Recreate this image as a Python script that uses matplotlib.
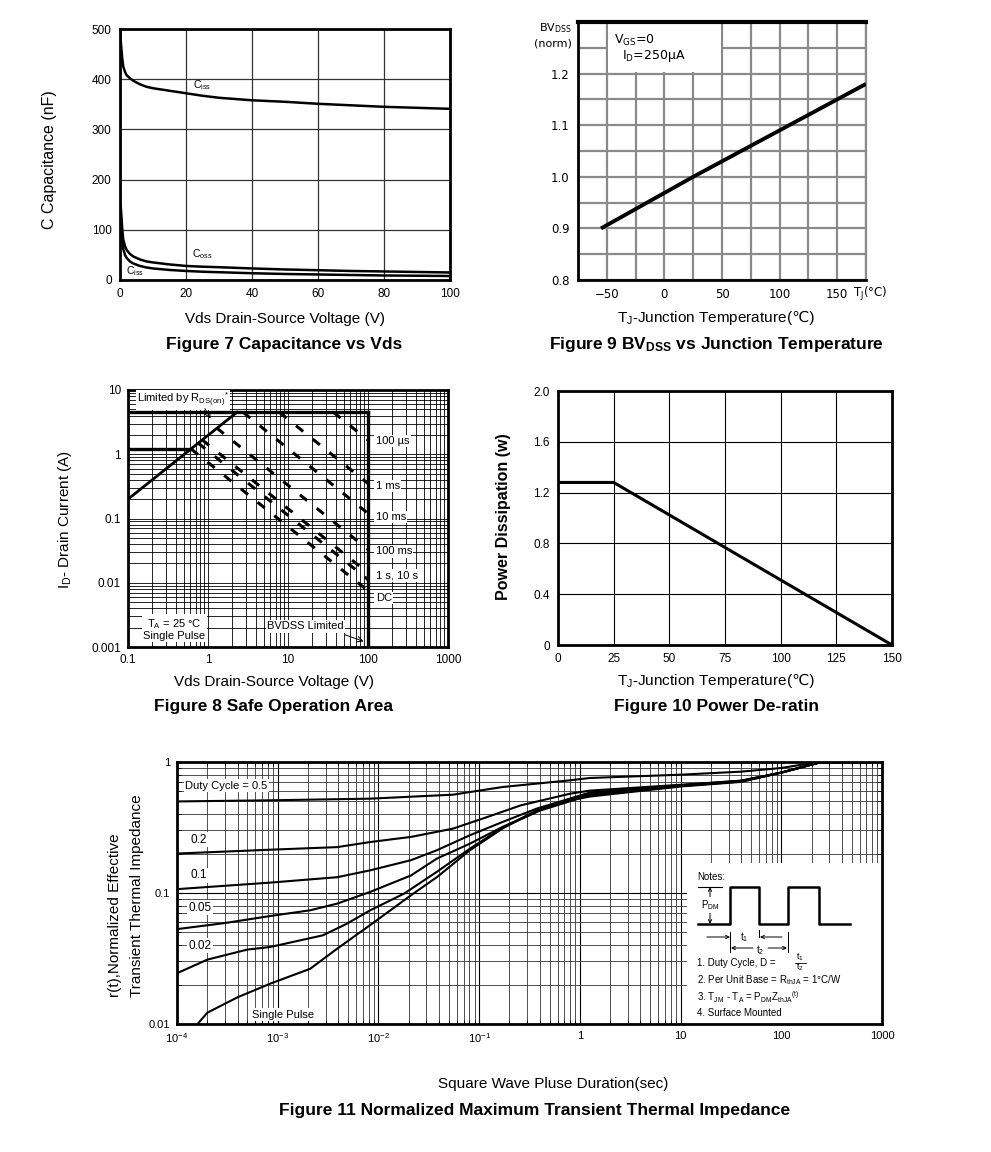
import matplotlib.pyplot as plt
import numpy as np
from matplotlib.patches import Rectangle
from matplotlib.ticker import LogLocator, NullFormatter, FixedLocator

plt.rcParams['font.family'] = ['Liberation Sans', 'DejaVu Sans']
plt.rcParams['mathtext.fontset'] = 'custom'
plt.rcParams['mathtext.rm'] = 'Liberation Sans'
plt.rcParams['mathtext.default'] = 'regular'

# ---- Figure 7 data: capacitance vs Vds
vds = [0, 0.3, 0.7, 1, 1.5, 2, 3, 4, 6, 8, 10, 15, 20, 25, 30, 40, 50, 60, 70, 80, 90, 100]
c_iss = [500, 470, 440, 425, 415, 408, 402, 397, 390, 385, 382, 377, 372, 367, 363, 358, 355, 351, 348, 345, 343, 341]
c_oss = [160, 140, 100, 80, 68, 60, 52, 47, 41, 37, 35, 31, 28, 26.5, 25.5, 23, 21, 19.5, 18, 17, 16, 15]
c_rss = [150, 120, 80, 62, 50, 44, 37, 33, 28, 25, 23, 20, 18, 16.5, 15.5, 13.5, 12, 11, 10, 9, 8.5, 8]

# ---- Figure 9 data: BVdss vs Tj
tj = [-55, 25, 100, 175]
bv_norm = [0.90, 1.00, 1.09, 1.18]

# ---- Figure 8 data: safe operating area
rds_v = [0.1, 2.3]
rds_i = [0.2, 4.5]
i_max = 4.5
v_max = 100
low_v = [0.1, 0.61]
low_i = [1.22, 1.22]
pulse_names = ['100 µs', '1 ms', '10 ms', '100 ms', '1 s, 10 s', '', 'DC']
pulse_v0 = [37, 7.8, 2.75, 1.28, 0.84, 0.75, 0.61]
pulse_i0 = [4.5, 4.5, 4.5, 2.57, 1.69, 1.5, 1.22]
pulse_i1 = [1.66, 0.35, 0.12, 0.033, 0.0142, 0.0112, 0.0075]
pulse_label_i = [1.6, 0.32, 0.106, 0.031, 0.0129, None, 0.0058]

# ---- Figure 10 data: power derating
t_amb = [0, 25, 150]
p_diss = [1.28, 1.28, 0.0]

# ---- Figure 11 data: transient thermal impedance
t_05 = [1e-4, 8.4e-4, 8.3e-3, 5.5e-2, 0.17, 0.8, 1.26, 10, 40, 100, 200, 1000]
r_05 = [0.50, 0.51, 0.525, 0.563, 0.644, 0.725, 0.755, 0.80, 0.844, 0.90, 0.98, 1.0]
t_02 = [1e-4, 8.4e-4, 3.9e-3, 8.3e-3, 2.1e-2, 5.5e-2, 0.12, 0.26, 0.8, 1.26, 10, 40, 100, 250, 1000]
r_02 = [0.20, 0.214, 0.224, 0.245, 0.268, 0.31, 0.38, 0.467, 0.573, 0.605, 0.67, 0.72, 0.83, 1.0, 1.0]
t_01 = [1e-4, 8.4e-4, 3.9e-3, 8.3e-3, 2.1e-2, 3.8e-2, 8.1e-2, 0.17, 0.37, 1.26, 10, 40, 100, 250, 1000]
r_01 = [0.107, 0.12, 0.132, 0.149, 0.178, 0.212, 0.276, 0.348, 0.44, 0.585, 0.665, 0.72, 0.83, 1.0, 1.0]
t_005 = [1e-4, 3e-4, 8.4e-4, 2.1e-3, 3.9e-3, 8.3e-3, 2.1e-2, 3.8e-2, 8.1e-2, 0.17, 0.4, 1.26, 10, 40, 100, 250, 1000]
r_005 = [0.053, 0.059, 0.0667, 0.0738, 0.083, 0.102, 0.136, 0.183, 0.238, 0.319, 0.43, 0.57, 0.66, 0.715, 0.83, 1.0, 1.0]
t_002 = [1e-4, 2e-4, 5e-4, 8.4e-4, 2.8e-3, 4.8e-3, 8.3e-3, 1.8e-2, 3.8e-2, 8.1e-2, 0.17, 0.4, 1.26, 10, 40, 100, 250, 1000]
r_002 = [0.0244, 0.031, 0.037, 0.0387, 0.0475, 0.058, 0.0738, 0.099, 0.145, 0.218, 0.315, 0.425, 0.56, 0.655, 0.71, 0.83, 1.0, 1.0]
t_sp = [1.6e-4, 2e-4, 4e-4, 8.4e-4, 2.1e-3, 3.9e-3, 8.3e-3, 2.1e-2, 3.8e-2, 8.1e-2, 0.17, 0.37, 0.8, 1.26, 10, 40, 100, 250, 1000]
r_sp = [0.01, 0.0122, 0.016, 0.0203, 0.0264, 0.0376, 0.057, 0.096, 0.132, 0.212, 0.31, 0.428, 0.51, 0.545, 0.65, 0.705, 0.83, 1.0, 1.0]
zth_curves = [(t_05, r_05), (t_02, r_02), (t_01, r_01), (t_005, r_005), (t_002, r_002), (t_sp, r_sp)]

W, H = 991, 1152
fig = plt.figure(figsize=(W / 100, H / 100), dpi=100)


def rect(l, t, r, b):
    return [l / W, 1 - b / H, (r - l) / W, (b - t) / H]


def ftext(x, y, s, **kw):
    kw.setdefault('ha', 'center')
    kw.setdefault('va', 'center')
    return fig.text(x / W, 1 - y / H, s, **kw)


def tj_label(cx, cy):
    # the degree-Celsius sign is missing from Liberation Sans, so it goes in a second text
    a = fig.text(0, 0, 'T$_J$-Junction Temperature', fontsize=11, ha='left', va='baseline')
    b = fig.text(0, 0, '(℃)', fontsize=11, ha='left', va='baseline',
                 family=['Liberation Sans', 'DejaVu Sans'])
    r = fig.canvas.get_renderer()
    wa = a.get_window_extent(r).width
    wb = b.get_window_extent(r).width
    x0 = cx - (wa + wb) / 2
    a.set_position((x0 / W, 1 - cy / H))
    b.set_position(((x0 + wa) / W, 1 - cy / H))


def frame(ax, lw=2.0):
    for sp in ax.spines.values():
        sp.set_linewidth(lw)
        sp.set_color('black')


white = dict(facecolor='white', edgecolor='none', pad=1)

# ================= Figure 7
ax7 = fig.add_axes(rect(120, 29, 450, 280))
ax7.plot(vds, c_iss, color='black', lw=1.8)
ax7.plot(vds, c_oss, color='black', lw=1.8)
ax7.plot(vds, c_rss, color='black', lw=1.8)
ax7.set_xlim(0, 100)
ax7.set_ylim(0, 500)
ax7.set_xticks(range(0, 101, 20))
ax7.set_yticks(range(0, 501, 100))
ax7.grid(color='#333333', lw=0.9)
ax7.set_axisbelow(True)
ax7.tick_params(length=0, pad=6, labelsize=8.5)
frame(ax7)
ax7.text(25, 388, 'C$_{iss}$', fontsize=7.5, ha='center', va='center')
ax7.text(25, 52, 'C$_{oss}$', fontsize=7.5, ha='center', va='center')
ax7.text(4.5, 17, 'C$_{iss}$', fontsize=7.5, ha='center', va='center')
ftext(50, 160, 'C Capacitance (nF)', rotation=90, fontsize=11.5)
ftext(285, 319, 'Vds Drain-Source Voltage (V)', fontsize=11)
ftext(284, 344, 'Figure 7 Capacitance vs Vds', fontsize=12.5, fontweight='bold')

# ================= Figure 9
ax9 = fig.add_axes(rect(578, 22, 866, 280))
ax9.plot(tj, bv_norm, color='black', lw=2.8, solid_capstyle='butt', zorder=3)
ax9.set_xlim(-75, 175)
ax9.set_ylim(0.8, 1.3)
ax9.set_xticks(range(-50, 151, 50))
ax9.set_yticks([0.8, 0.9, 1.0, 1.1, 1.2])
ax9.set_yticklabels(['0.8', '0.9', '1.0', '1.1', '1.2'])
ax9.xaxis.set_minor_locator(FixedLocator(np.arange(-75, 176, 25)))
ax9.yaxis.set_minor_locator(FixedLocator(np.arange(0.8, 1.31, 0.05)))
ax9.grid(which='both', color='#8a8a8a', lw=1.6)
ax9.set_axisbelow(True)
ax9.tick_params(which='both', length=0, pad=6, labelsize=8.5)
for lab in ax9.get_xticklabels() + ax9.get_yticklabels():
    lab.set_family('DejaVu Sans')
frame(ax9)
ax9.spines['top'].set_linewidth(3)
ax9.spines['right'].set_color('#8a8a8a')
ax9.spines['right'].set_linewidth(1.6)
ax9.add_patch(Rectangle((-49, 1.2025), 98, 0.1, facecolor='white', edgecolor='none', zorder=1))
ax9.text(-44, 1.265, 'V$_{GS}$=0', fontsize=9, family='DejaVu Sans', va='center', zorder=4)
ax9.text(-37, 1.234, 'I$_D$=250μA', fontsize=9, family='DejaVu Sans', va='center', zorder=4)
ftext(572, 28, 'BV$_{DSS}$', fontsize=8, family='DejaVu Sans', ha='right')
ftext(572, 43, '(norm)', fontsize=8, family='DejaVu Sans', ha='right')
ftext(853, 294, 'T$_J$(°C)', fontsize=8.5, family='DejaVu Sans', ha='left')
tj_label(716, 322)
ftext(716, 344, 'Figure 9 BV$_{DSS}$ vs Junction Temperature', fontsize=12.5, fontweight='bold')

# ================= Figure 8
ax8 = fig.add_axes(rect(128, 390, 448, 647))
ax8.set_xscale('log')
ax8.set_yscale('log')
ax8.set_xlim(0.1, 1000)
ax8.set_ylim(0.001, 10)
ax8.plot(rds_v, rds_i, color='black', lw=2.0)
ax8.plot([0.1, v_max], [i_max, i_max], color='black', lw=2.4)
ax8.plot([v_max, v_max], [i_max, 0.001], color='black', lw=2.4)
ax8.plot(low_v, low_i, color='black', lw=2.4)
for v0, i0, i1 in zip(pulse_v0, pulse_i0, pulse_i1):
    ax8.plot([v0, v_max], [i0, i1], color='black', lw=2.2, dashes=(3.0, 4.0))
for name, yi in zip(pulse_names, pulse_label_i):
    if name:
        ax8.text(125, yi, name, fontsize=8, va='center', ha='left', bbox=white)
ax8.set_xticks([0.1, 1, 10, 100, 1000])
ax8.set_xticklabels(['0.1', '1', '10', '100', '1000'])
ax8.set_yticks([0.001, 0.01, 0.1, 1, 10])
ax8.set_yticklabels(['0.001', '0.01', '0.1', '1', '10'])
for axis in (ax8.xaxis, ax8.yaxis):
    axis.set_minor_locator(LogLocator(base=10, subs=np.arange(2, 10), numticks=20))
    axis.set_minor_formatter(NullFormatter())
ax8.grid(which='both', color='black', lw=0.6)
ax8.set_axisbelow(True)
ax8.tick_params(which='both', length=0, pad=5, labelsize=8.5)
frame(ax8)
ax8.text(0.13, 7.0, 'Limited by R$_{DS(on)}$$^{*}$', fontsize=8, va='center', ha='left', bbox=white)
ax8.annotate('', xy=(1.12, 3.3), xytext=(0.88, 5.6),
             arrowprops=dict(arrowstyle='->', lw=0.7, color='black'))
ax8.text(0.38, 0.0019, 'T$_A$ = 25 °C\nSingle Pulse', fontsize=8, va='center', ha='center',
         linespacing=1.0, bbox=white)
ax8.text(5.5, 0.0021, 'BVDSS Limited', fontsize=8, va='center', ha='left', bbox=white)
ax8.annotate('', xy=(95, 0.00118), xytext=(48, 0.0016),
             arrowprops=dict(arrowstyle='->', lw=0.7, color='black'))
ftext(65, 520, 'I$_D$- Drain Current (A)', rotation=90, fontsize=11)
ftext(274, 682, 'Vds Drain-Source Voltage (V)', fontsize=11)
ftext(274, 707, 'Figure 8 Safe Operation Area', fontsize=12.5, fontweight='bold')

# ================= Figure 10
ax10 = fig.add_axes(rect(558, 391, 892, 645))
ax10.plot(t_amb, p_diss, color='black', lw=2.2)
ax10.set_xlim(0, 150)
ax10.set_ylim(0, 2.0)
ax10.set_xticks(range(0, 151, 25))
ax10.set_yticks([0, 0.4, 0.8, 1.2, 1.6, 2.0])
ax10.set_yticklabels(['0', '0.4', '0.8', '1.2', '1.6', '2.0'])
ax10.grid(color='black', lw=0.8)
ax10.set_axisbelow(True)
ax10.tick_params(length=0, pad=6, labelsize=8.5)
frame(ax10)
ftext(503, 517, 'Power Dissipation (w)', rotation=90, fontsize=11.5, fontweight='bold')
tj_label(716, 685)
ftext(717, 707, 'Figure 10 Power De-ratin', fontsize=12.5, fontweight='bold')

# ================= Figure 11
ax11 = fig.add_axes(rect(177, 762, 882, 1024))
ax11.set_xscale('log')
ax11.set_yscale('log')
ax11.set_xlim(1e-4, 1000)
ax11.set_ylim(0.01, 1)
for tt, rr in zth_curves:
    ax11.plot(tt, rr, color='black', lw=1.5, zorder=3)
ax11.set_xticks([1e-4, 1e-3, 1e-2, 1e-1, 1, 10, 100, 1000])
ax11.set_xticklabels(['10$^{-4}$', '10$^{-3}$', '10$^{-2}$', '10$^{-1}$', '1', '10', '100', '1000'])
ax11.set_yticks([0.01, 0.1, 1])
ax11.set_yticklabels(['0.01', '0.1', '1'])
for axis in (ax11.xaxis, ax11.yaxis):
    axis.set_minor_locator(LogLocator(base=10, subs=np.arange(2, 10), numticks=20))
    axis.set_minor_formatter(NullFormatter())
ax11.grid(which='major', color='black', lw=0.8)
ax11.grid(which='minor', color='#333333', lw=0.6)
ax11.set_axisbelow(True)
ax11.tick_params(which='both', direction='in', top=True, right=True, length=3, pad=5, labelsize=8)
frame(ax11)
ax11.add_patch(Rectangle((0.723, 0.0), 0.277, 0.615, transform=ax11.transAxes,
                         facecolor='white', edgecolor='none', zorder=1))
ax11.text(1.2e-4, 0.66, 'Duty Cycle = 0.5', fontsize=8, va='center', ha='left', bbox=white)
ax11.text(1.35e-4, 0.255, '0.2', fontsize=8.5, va='center', ha='left', bbox=white)
ax11.text(1.35e-4, 0.137, '0.1', fontsize=8.5, va='center', ha='left', bbox=white)
ax11.text(1.3e-4, 0.077, '0.05', fontsize=8.5, va='center', ha='left', bbox=white)
ax11.text(1.3e-4, 0.0395, '0.02', fontsize=8.5, va='center', ha='left', bbox=white)
ax11.text(5.5e-4, 0.0118, 'Single Pulse', fontsize=8, va='center', ha='left', bbox=white)
ftext(115, 915, 'r(t),Normalized Effective', rotation=90, fontsize=11)
ftext(137, 896, 'Transient Thermal Impedance', rotation=90, fontsize=11)
ftext(553, 1084, 'Square Wave Pluse Duration(sec)', fontsize=11)
ftext(535, 1110, 'Figure 11 Normalized Maximum Transient Thermal Impedance', fontsize=12.5, fontweight='bold')

# ---- notes sketch drawn in pixel space on top of figure 11
ov = fig.add_axes([0, 0, 1, 1], zorder=10)
ov.set_xlim(0, W)
ov.set_ylim(H, 0)
ov.axis('off')
ov.patch.set_alpha(0)
ov.text(697, 877, 'Notes:', fontsize=7, va='center', ha='left')
ov.plot([698, 730, 730, 759, 759, 788, 788, 819, 819, 850],
        [924, 924, 887, 887, 924, 924, 887, 887, 924, 924], color='black', lw=1.8)
ov.plot([698, 722], [887, 887], color='black', lw=0.8)
ov.annotate('', xy=(710, 887), xytext=(710, 924), arrowprops=dict(arrowstyle='<->', lw=0.7,
            shrinkA=0, shrinkB=0, mutation_scale=6))
ov.text(710, 905, 'P$_{DM}$', fontsize=7, va='center', ha='center',
        bbox=dict(facecolor='white', edgecolor='none', pad=0.5))
ov.plot([730, 730], [932, 952], color='black', lw=0.7)
ov.plot([759, 759], [930, 937], color='black', lw=0.7)
ov.plot([788, 788], [932, 952], color='black', lw=0.7)
arr = dict(arrowstyle='->', lw=0.7, shrinkA=0, shrinkB=0, mutation_scale=6)
ov.annotate('', xy=(730, 937), xytext=(707, 937), arrowprops=arr)
ov.annotate('', xy=(760, 937), xytext=(782, 937), arrowprops=arr)
ov.annotate('', xy=(731, 948), xytext=(753, 948), arrowprops=arr)
ov.annotate('', xy=(787, 948), xytext=(768, 948), arrowprops=arr)
ov.text(744, 937, 't$_1$', fontsize=7, va='center', ha='center')
ov.text(760, 950, 't$_2$', fontsize=7, va='center', ha='center')
ov.text(697, 963, '1. Duty Cycle, D =', fontsize=7, va='center', ha='left')
ov.text(800, 957, 't$_1$', fontsize=6.5, va='center', ha='center')
ov.plot([795, 806], [962.5, 962.5], color='black', lw=0.6)
ov.text(800, 967, 't$_2$', fontsize=6.5, va='center', ha='center')
ov.text(697, 980, '2. Per Unit Base = R$_{thJA}$ = 1°C/W', fontsize=7, va='center', ha='left')
ov.text(697, 997, '3. T$_{JM}$ - T$_A$ = P$_{DM}$Z$_{thJA}$$^{(t)}$', fontsize=7, va='center', ha='left')
ov.text(697, 1013, '4. Surface Mounted', fontsize=7, va='center', ha='left')

fig.savefig('out.png', dpi=100)
